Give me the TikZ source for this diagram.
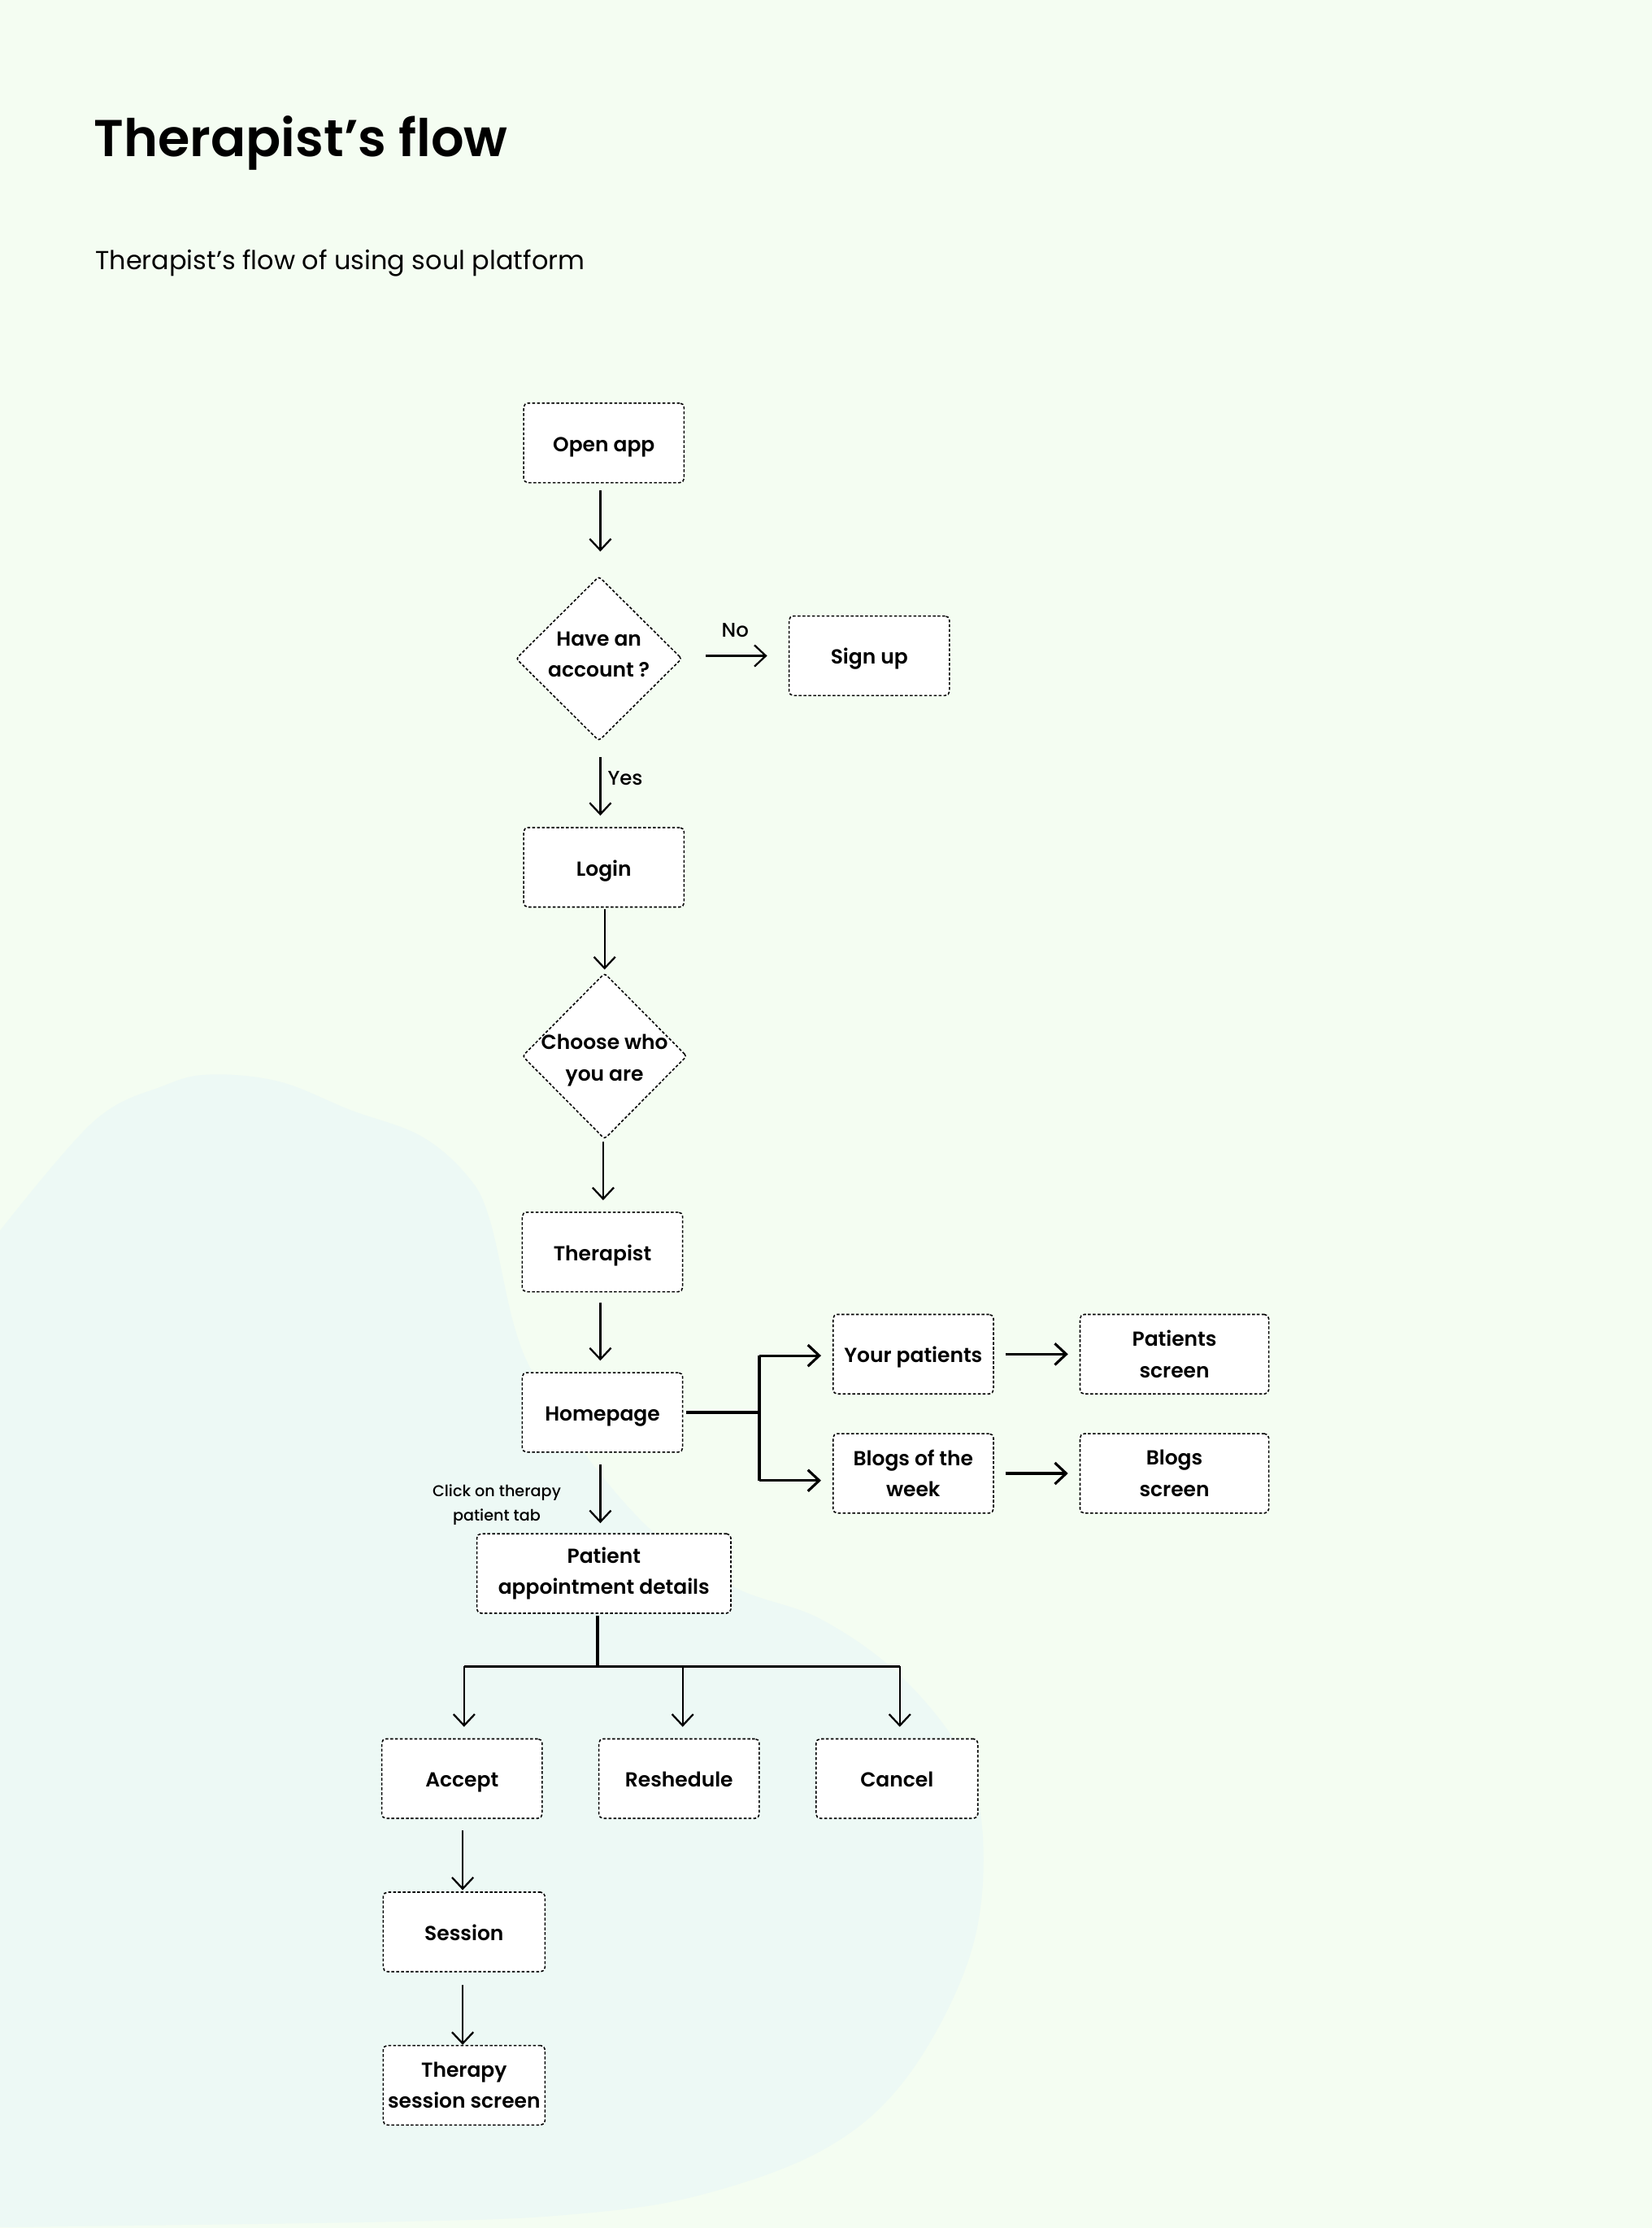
\documentclass[tikz,border=0pt]{standalone}
\usepackage{fontspec}
\setmainfont{Poppins}
\IfFontExistsTF{Poppins SemiBold}{\newfontfamily\semib{Poppins SemiBold}}{\newcommand\semib{\bfseries}}
\IfFontExistsTF{Poppins Medium}{\newfontfamily\medf{Poppins Medium}}{\newcommand\medf{\normalfont}}
\usetikzlibrary{arrows.meta,shapes.geometric}
\definecolor{bgc}{RGB}{244,253,242}
\definecolor{blobc}{RGB}{237,249,245}
\begin{document}
\begin{tikzpicture}[x=1pt,y=-1pt,
  box/.style={draw=black, fill=white, rounded corners=3pt, line width=0.9pt,
    dash pattern=on 2pt off 1.4pt, minimum width=113pt, minimum height=56pt,
    inner sep=0pt, align=center, font=\semib\fontsize{14.3}{22}\selectfont},
  one/.style={text height=12pt, text depth=0pt},
  dia/.style={draw=black, fill=white, shape=diamond, rounded corners=2pt, line width=0.9pt,
    dash pattern=on 2pt off 1.4pt, minimum width=117pt, minimum height=116pt, inner sep=0pt},
  txt/.style={align=center, font=\semib\fontsize{14.3}{22}\selectfont, inner sep=0pt},
  lbl/.style={font=\medf\fontsize{14}{17}\selectfont, inner sep=0pt},
  arr/.style={-{Straight Barb[length=8pt,width=15pt]}, line width=1.3pt},
  thk/.style={line width=1.8pt},
]
\useasboundingbox (0,0) rectangle (1164,1569.6);
\fill[bgc] (0,0) rectangle (1164,1569.6);
% background blob
\fill[blobc] plot[smooth, tension=0.6] coordinates {
  (0,867) (66,790) (115,765) (148,757) (197,762) (247,782) (296,800) (329,828)
  (345,859) (362,933) (378,972) (411,1023) (460,1079) (517,1118) (579,1141)
  (637,1183) (681,1242) (693,1310) (681,1385) (637,1466) (579,1515) (491,1547)
  (403,1560) (286,1565) (0,1569)} -- (-10,1580) -- (-10,867) -- cycle;

% titles
\node[anchor=base west, inner sep=0pt, font=\semib\fontsize{36.5}{40}\selectfont] (title) at (66,110.4) {Therapist’s flow};
\node[anchor=base west, inner sep=0pt, font=\fontsize{18.3}{22}\selectfont] (sub) at (67,190) {Therapist’s flow of using soul platform};

% nodes
\node[box, one] (open) at (425.5,312) {Open app};
\node[dia] (q1) at (422,464) {};
\node[txt] (q1t) at (422,461) {Have an\\account ?};
\node[box, one] (signup) at (612.5,462) {Sign up};
\node[box, one] (login) at (425.5,611) {Login};
\node[dia, minimum width=116pt, minimum height=117pt] (q2) at (426,744) {};
\node[txt] (q2t) at (426,747) {Choose who\\you are};
\node[box, one] (ther) at (424.5,882) {Therapist};
\node[box, one] (home) at (424.5,995) {Homepage};
\node[box, one] (yp) at (643.5,954) {Your patients};
\node[box, minimum width=133pt] (ps) at (827.5,954) {Patients\\screen};
\node[box] (blogs) at (643.5,1038) {Blogs of the\\week};
\node[box, minimum width=133pt] (bs) at (827.5,1038) {Blogs\\screen};
\node[box, minimum width=179pt] (pad) at (425.5,1108.5) {Patient\\appointment details};
\node[box, one] (acc) at (325.5,1253) {Accept};
\node[box, one] (resh) at (478.5,1253) {Reshedule};
\node[box, one, minimum width=114pt] (canc) at (632,1253) {Cancel};
\node[box, one, minimum width=114pt] (sess) at (327,1361) {Session};
\node[box, minimum width=114pt] (tss) at (327,1469) {Therapy\\session screen};

% labels
\node[lbl] (no) at (518,444) {No};
\node[lbl, anchor=west] (yes) at (428,548) {Yes};
\node[align=center, inner sep=0pt, font=\medf\fontsize{11}{17}\selectfont] (click) at (350,1060) {Click on therapy\\patient tab};

% connectors
\coordinate (c1) at (423,0);
\draw[arr, shorten <=5pt, shorten >=17pt] (open.south -| c1) -- (q1.north -| c1);
\draw[arr, shorten <=16.5pt, shorten >=15pt] (q1.east |- signup.west) -- (signup.west);
\draw[arr, shorten <=11pt, shorten >=8pt] (q1.south -| c1) -- (login.north -| c1);
\coordinate (c2) at (426,0);
\draw[arr, shorten <=1pt, shorten >=2pt] (login.south -| c2) -- (q2.north -| c2);
\coordinate (c3) at (425,0);
\draw[arr, shorten <=1.5pt, shorten >=8pt] (q2.south -| c3) -- (ther.north -| c3);
\draw[arr, shorten <=7pt, shorten >=8pt] (ther.south -| c1) -- (home.north -| c1);
% homepage branches
\coordinate (hb) at (535,995);
\coordinate (hbt) at (535,955);
\coordinate (hbb) at (535,1043);
\draw[thk] ([xshift=2pt]home.east) -- (hb);
\draw[thk] (hbt) -- (hbb);
\draw[arr, thk, shorten >=8pt] (hbt) -- (yp.west |- hbt);
\draw[arr, thk, shorten >=8pt] (hbb) -- (blogs.west |- hbb);
\draw[arr, thk, shorten <=8pt, shorten >=8pt] (yp.east) -- (ps.west);
\draw[arr, thk, shorten <=8pt, shorten >=8pt] (blogs.east) -- (bs.west);
% to patient appointment details
\draw[arr, shorten <=8pt, shorten >=7pt] (home.south -| c1) -- (pad.north -| c1);
% three-way split
\coordinate (c4) at (421,1174);
\coordinate (ca) at (327,1174);
\coordinate (cr) at (481,1174);
\coordinate (cc) at (634,1174);
\draw[thk] ([yshift=-1pt]pad.south -| c4) -- (c4);
\draw[thk] (ca) -- (cc);
\draw[arr, shorten >=8pt] (ca) -- (acc.north -| ca);
\draw[arr, shorten >=8pt] (cr) -- (resh.north -| cr);
\draw[arr, shorten >=8pt] (cc) -- (canc.north -| cc);
\coordinate (c5) at (326,0);
\draw[arr, shorten <=8pt, shorten >=1pt] (acc.south -| c5) -- (sess.north -| c5);
\draw[arr, shorten <=9pt] (sess.south -| c5) -- (tss.north -| c5);
\end{tikzpicture}
\end{document}
